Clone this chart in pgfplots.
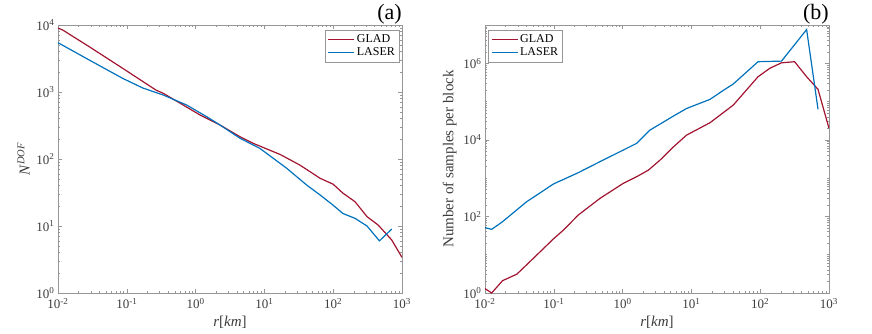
\documentclass[border=0pt]{standalone}
\usepackage{fontspec}
\setmainfont{Liberation Serif}
\usepackage{pgfplots}
\pgfplotsset{compat=1.18}
\definecolor{glad}{RGB}{162,20,47}
\definecolor{laser}{RGB}{0,114,189}
\definecolor{axgray}{RGB}{150,150,150}
\definecolor{txtgray}{RGB}{60,60,60}

\begin{document}
\begin{tikzpicture}
\path[use as bounding box] (0pt,0pt) rectangle (872pt,333pt);

\begin{axis}[at={(58pt,40pt)}, anchor=south west,
  xmode=log, ymode=log, scale only axis,
  width=344pt, height=268pt,
  xmin=1e-2, xmax=1e3,
  xtick={1e-2,1e-1,1,1e1,1e2,1e3},
  xticklabels={10\textsuperscript{-2},10\textsuperscript{-1},10\textsuperscript{0},10\textsuperscript{1},10\textsuperscript{2},10\textsuperscript{3}},
  axis line style={axgray, line width=0.6pt},
  every tick/.style={axgray, line width=0.5pt},
  major tick length=4pt, minor tick length=2pt,
  tick label style={font=\fontsize{13}{13}\selectfont, text=txtgray},
  x tick label style={yshift=-2pt},
  label style={font=\fontsize{15}{15}\selectfont, text=txtgray},
  xlabel={\textit{r}[\textit{km}]},
  legend style={font=\fontsize{12}{13}\selectfont, draw=axgray, line width=0.5pt, inner sep=2.5pt, row sep=0pt},
  legend cell align=left,
  legend image code/.code={\draw[#1, line width=1.3pt] (0pt,0pt) -- (26pt,0pt);},
  ymin=1, ymax=1e4,
  ytick={1,1e1,1e2,1e3,1e4},
  yticklabels={10\textsuperscript{0},10\textsuperscript{1},10\textsuperscript{2},10\textsuperscript{3},10\textsuperscript{4}},
  ylabel={\textit{N}\textsuperscript{\textit{DOF}}},
  legend style={at={(0.993,0.982)}, anchor=north east}]
\addplot[glad, line width=1.2pt] coordinates {
(0.01,9000) (0.0117,8420) (0.0285,4740) (0.087,2260) (0.265,1070) (0.34,955)
(1.16,454) (2.26,322) (4.42,215) (6.9,171) (16.9,117) (32.9,81) (64.6,51.5)
(100,42) (138,31) (208,23) (310,13.8) (452,10.3) (708,6.2) (1000,3.4)};
\addlegendentry{GLAD}
\addplot[laser, line width=1.2pt] coordinates {
(0.01,5450) (0.0285,3000) (0.087,1600) (0.17,1150) (0.34,900) (0.74,640)
(1.45,428) (2.26,322) (4.42,204) (8.6,144) (21,73) (41,41) (64.6,29)
(100,20.4) (138,15.4) (208,13) (310,10) (470,6.0) (708,9.0)};
\addlegendentry{LASER}
\end{axis}

\begin{axis}[at={(485pt,40pt)}, anchor=south west,
  xmode=log, ymode=log, scale only axis,
  width=344pt, height=268pt,
  xmin=1e-2, xmax=1e3,
  xtick={1e-2,1e-1,1,1e1,1e2,1e3},
  xticklabels={10\textsuperscript{-2},10\textsuperscript{-1},10\textsuperscript{0},10\textsuperscript{1},10\textsuperscript{2},10\textsuperscript{3}},
  axis line style={axgray, line width=0.6pt},
  every tick/.style={axgray, line width=0.5pt},
  major tick length=4pt, minor tick length=2pt,
  tick label style={font=\fontsize{13}{13}\selectfont, text=txtgray},
  x tick label style={yshift=-2pt},
  label style={font=\fontsize{15}{15}\selectfont, text=txtgray},
  xlabel={\textit{r}[\textit{km}]},
  legend style={font=\fontsize{12}{13}\selectfont, draw=axgray, line width=0.5pt, inner sep=2.5pt, row sep=0pt},
  legend cell align=left,
  legend image code/.code={\draw[#1, line width=1.3pt] (0pt,0pt) -- (26pt,0pt);},
  ymin=1, ymax=1e7,
  ytick={1,1e2,1e4,1e6},
  yticklabels={10\textsuperscript{0},10\textsuperscript{2},10\textsuperscript{4},10\textsuperscript{6}},
  minor ytick={2,3,4,5,6,7,8,9,10,20,30,40,50,60,70,80,90,
    200,300,400,500,600,700,800,900,1000,2000,3000,4000,5000,6000,7000,8000,9000,
    2e4,3e4,4e4,5e4,6e4,7e4,8e4,9e4,1e5,2e5,3e5,4e5,5e5,6e5,7e5,8e5,9e5,
    2e6,3e6,4e6,5e6,6e6,7e6,8e6,9e6,1e7},
  ylabel={Number of samples per block},
  legend style={at={(0.009,0.982)}, anchor=north west}]
\addplot[glad, line width=1.2pt] coordinates {
(0.01,1.3) (0.0125,1) (0.018,2.1) (0.029,3.1) (0.045,6.6) (0.099,26)
(0.138,44) (0.227,109) (0.47,297) (1.02,730) (1.6,1090) (2.37,1620)
(3.5,2960) (5.5,6600) (8.5,13300) (18.6,28000) (40.6,81000) (93,445000)
(138,740000) (204,1030000) (316,1100000) (473,445000) (692,209000) (1000,20000)};
\addlegendentry{GLAD}
\addplot[laser, line width=1.2pt] coordinates {
(0.01,51) (0.0125,46) (0.018,73) (0.04,240) (0.099,705) (0.227,1390)
(0.52,2960) (1.02,5400) (1.6,8100) (2.5,18000) (5.5,42000) (8.5,66000)
(18.6,114000) (29.6,200000) (40.6,288000) (93,1100000) (204,1140000)
(473,7600000) (692,63000)};
\addlegendentry{LASER}
\end{axis}

\node[anchor=base east, font=\fontsize{22}{22}\selectfont, inner sep=0pt] at (402pt,314pt) {(a)};
\node[anchor=base east, font=\fontsize{22}{22}\selectfont, inner sep=0pt] at (829pt,314pt) {(b)};
\end{tikzpicture}
\end{document}
